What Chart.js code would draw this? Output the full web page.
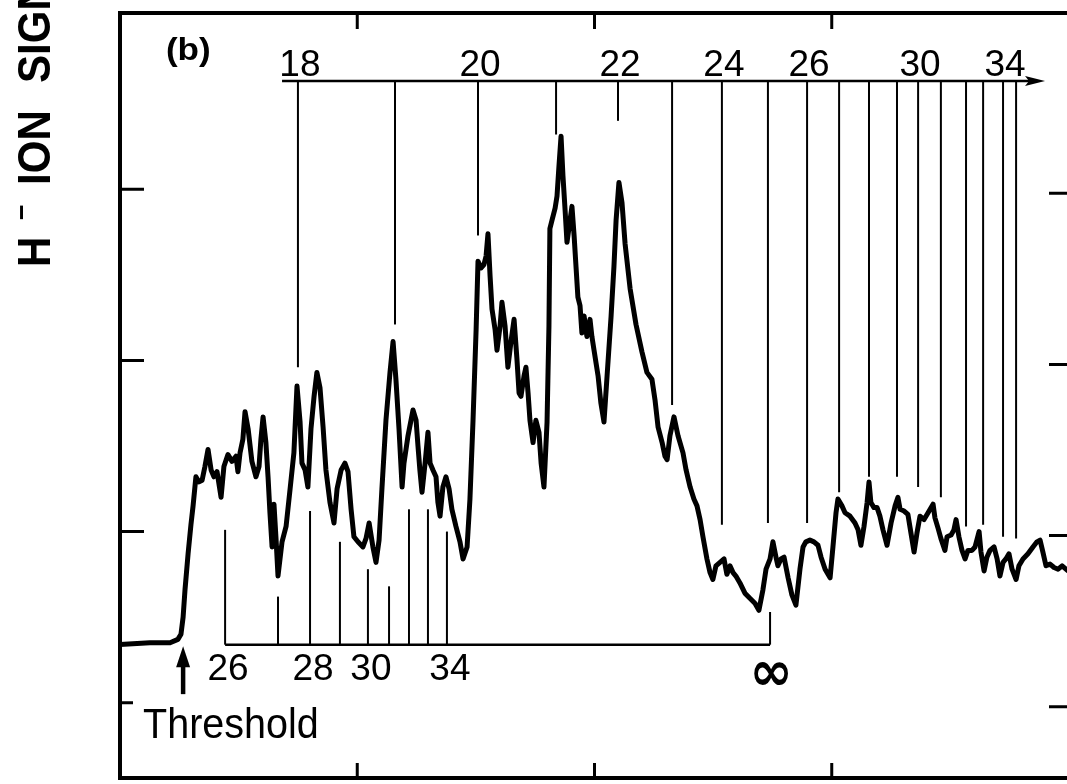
<!DOCTYPE html>
<html>
<head>
<meta charset="utf-8">
<script src="https://cdn.jsdelivr.net/npm/chart.js@4/dist/chart.umd.min.js"></script>
<style>
  html, body { margin: 0; padding: 0; background: #fff; overflow: hidden; }
  #wrap { width: 1067px; height: 784px; overflow: hidden; position: relative; }
  canvas { position: absolute; left: 0; top: 0; }
</style>
</head>
<body>
<div id="wrap"><canvas id="grafico" width="1072" height="784"></canvas></div>
<script>
// ENERGIA (unidades arbitrarias, 1 unidade por marca do eixo inferior)
const energia = [0,0.126,0.211,0.244,0.257,0.266,0.274,0.287,0.299,0.308,
  0.320,0.333,0.346,0.358,0.371,0.384,0.396,0.409,0.426,0.438,
  0.455,0.472,0.489,0.497,0.506,0.518,0.527,0.540,0.556,0.573,
  0.586,0.594,0.603,0.615,0.624,0.632,0.641,0.649,0.658,0.666,
  0.683,0.700,0.717,0.733,0.746,0.759,0.767,0.780,0.792,0.805,
  0.818,0.830,0.843,0.856,0.868,0.885,0.902,0.915,0.932,0.948,
  0.961,0.974,0.986,1.003,1.024,1.037,1.050,1.066,1.079,1.092,
  1.104,1.121,1.138,1.151,1.163,1.176,1.189,1.197,1.214,1.235,
  1.248,1.256,1.264,1.273,1.286,1.298,1.307,1.319,1.332,1.340,
  1.349,1.361,1.374,1.387,1.399,1.416,1.433,1.446,1.463,1.475,
  1.488,1.501,1.509,1.522,1.534,1.543,1.551,1.560,1.568,1.581,
  1.589,1.602,1.610,1.623,1.635,1.648,1.661,1.673,1.682,1.690,
  1.703,1.711,1.720,1.728,1.741,1.753,1.766,1.775,1.787,1.800,
  1.808,1.812,1.821,1.834,1.842,1.850,1.859,1.867,1.876,1.884,
  1.893,1.905,1.914,1.922,1.930,1.939,1.947,1.956,1.968,1.981,
  1.989,1.998,2.015,2.027,2.040,2.053,2.070,2.082,2.091,2.103,
  2.116,2.129,2.150,2.175,2.200,2.221,2.242,2.255,2.268,2.285,
  2.297,2.306,2.318,2.335,2.352,2.373,2.386,2.403,2.419,2.432,
  2.445,2.457,2.474,2.487,2.499,2.512,2.529,2.546,2.558,2.571,
  2.584,2.596,2.613,2.634,2.655,2.677,2.693,2.710,2.723,2.740,
  2.752,2.765,2.773,2.786,2.799,2.816,2.832,2.849,2.866,2.879,
  2.891,2.908,2.925,2.942,2.955,2.972,2.993,3.005,3.018,3.026,
  3.043,3.056,3.077,3.098,3.111,3.123,3.136,3.149,3.157,3.165,
  3.178,3.191,3.203,3.216,3.233,3.250,3.267,3.279,3.288,3.305,
  3.321,3.334,3.347,3.359,3.372,3.389,3.406,3.427,3.435,3.448,
  3.460,3.477,3.486,3.503,3.515,3.524,3.536,3.549,3.562,3.574,
  3.591,3.604,3.621,3.629,3.642,3.654,3.667,3.684,3.697,3.709,
  3.722,3.734,3.747,3.760,3.777,3.789,3.806,3.827,3.848,3.865,
  3.878,3.890,3.903,3.920,3.937,3.954,3.971,3.996];

// SINAL DE IONS H- (unidades arbitrarias)
const sinal = [0.34,0.35,0.35,0.37,0.40,0.50,0.66,0.87,1.04,1.15,
  1.32,1.29,1.30,1.38,1.48,1.36,1.32,1.35,1.20,1.38,
  1.45,1.41,1.44,1.35,1.46,1.54,1.70,1.60,1.41,1.32,
  1.38,1.54,1.67,1.52,1.32,1.11,0.91,1.16,0.95,0.74,
  0.94,1.03,1.25,1.46,1.85,1.64,1.40,1.36,1.26,1.60,
  1.79,1.93,1.84,1.61,1.36,1.17,1.05,1.25,1.36,1.40,
  1.35,1.13,0.97,0.94,0.91,0.96,1.05,0.91,0.82,0.95,
  1.25,1.65,1.93,2.11,1.89,1.60,1.26,1.40,1.56,1.71,
  1.65,1.50,1.36,1.23,1.40,1.58,1.40,1.36,1.32,1.17,
  1.09,1.26,1.32,1.25,1.13,1.03,0.94,0.84,0.91,1.19,
  1.65,2.18,2.58,2.54,2.56,2.61,2.74,2.49,2.30,2.18,
  2.06,2.20,2.34,2.20,1.96,2.11,2.24,2.01,1.81,1.79,
  1.91,1.96,1.81,1.65,1.52,1.65,1.58,1.40,1.26,1.64,
  2.20,2.77,2.82,2.89,2.96,3.13,3.31,3.08,2.88,2.69,
  2.78,2.90,2.73,2.55,2.37,2.32,2.16,2.26,2.14,2.24,
  2.14,2.06,1.91,1.75,1.64,1.91,2.26,2.55,2.82,3.04,
  2.92,2.68,2.42,2.21,2.05,1.93,1.89,1.77,1.61,1.52,
  1.44,1.42,1.56,1.67,1.56,1.46,1.36,1.26,1.19,1.15,
  1.07,0.97,0.84,0.76,0.72,0.80,0.82,0.84,0.75,0.80,
  0.76,0.74,0.70,0.64,0.61,0.58,0.54,0.66,0.78,0.84,
  0.94,0.85,0.80,0.84,0.85,0.73,0.63,0.57,0.78,0.91,
  0.94,0.95,0.94,0.92,0.85,0.78,0.73,0.91,1.11,1.19,
  1.15,1.11,1.09,1.05,1.01,0.92,1.03,1.17,1.29,1.17,
  1.14,1.14,1.09,1.01,0.92,1.05,1.15,1.20,1.13,1.12,
  1.10,0.99,0.88,0.99,1.09,1.07,1.11,1.16,1.08,1.02,
  0.96,0.89,0.97,0.98,1.01,1.07,0.97,0.89,0.84,0.89,
  0.89,0.91,1.00,0.88,0.77,0.85,0.89,0.91,0.84,0.74,
  0.82,0.84,0.87,0.78,0.72,0.80,0.84,0.87,0.91,0.94,
  0.95,0.88,0.80,0.81,0.79,0.78,0.80,0.77];

// SERIE SUPERIOR (n = 18 ... 35)
const serieSupN = [18,19,20,21,22,23,24,25,26,27,28,29,30,31,32,33,34,35];
const serieSupX = [0.750,1.159,1.509,1.838,2.099,2.327,2.537,2.731,2.896,3.031,3.157,3.275,3.364,3.460,3.566,3.638,3.722,3.777];
const serieSupFim = [1.96,2.21,2.73,3.32,3.40,1.74,1.04,1.05,1.05,1.23,1.32,1.32,1.26,1.20,1.03,1.04,0.97,0.96];
const serieSupRotulos = [18,20,22,24,26,30,34];
const serieSupNivel = 3.632;
const serieSupInicio = 0.683;
const serieSupSeta = 3.899;

// SERIE INFERIOR (n = 26 ... 34, limite infinito)
const serieInfN = [26,27,28,29,30,31,32,33,34];
const serieInfX = [0.443,0.666,0.801,0.927,1.045,1.134,1.218,1.298,1.378];
const serieInfTopo = [1.01,0.62,1.12,0.94,0.78,0.68,1.13,1.13,1.00];
const serieInfRotulos = [26,28,30,34];
const serieInfNivel = 0.339;
const limiteX = 2.740;
const limiteTopo = 0.53;

// LIMIAR
const limiarX = 0.266;
const limiarTopo = 0.33;
const limiarBase = 0.05;

// MARCAS DOS EIXOS
const marcasX = [1, 2, 3];
const marcasY = [0, 1, 2, 3];

// texto ajustado a uma caixa (tinta) em pixels
function textoNaCaixa(ctx, texto, fonte, esq, topo, dir, base) {
  ctx.save();
  ctx.font = fonte;
  ctx.textAlign = "left";
  ctx.textBaseline = "alphabetic";
  const m = ctx.measureText(texto);
  const w = m.actualBoundingBoxLeft + m.actualBoundingBoxRight;
  const h = m.actualBoundingBoxAscent + m.actualBoundingBoxDescent;
  ctx.translate(esq, topo);
  ctx.scale((dir - esq) / w, (base - topo) / h);
  ctx.fillText(texto, m.actualBoundingBoxLeft, m.actualBoundingBoxAscent);
  ctx.restore();
}

const desenho = {
  id: "desenho",
  beforeDatasetsDraw(chart) {
    const { ctx, scales: { x, y } } = chart;
    ctx.save();
    ctx.strokeStyle = "#000";
    ctx.fillStyle = "#000";
    ctx.lineCap = "butt";

    // serie superior
    const yNivel = y.getPixelForValue(serieSupNivel);
    ctx.lineWidth = 2.5;
    ctx.beginPath();
    ctx.moveTo(x.getPixelForValue(serieSupInicio), yNivel);
    ctx.lineTo(x.getPixelForValue(serieSupSeta) - 8, yNivel);
    ctx.stroke();
    const ps = x.getPixelForValue(serieSupSeta);
    ctx.beginPath();
    ctx.moveTo(ps, yNivel);
    ctx.lineTo(ps - 20, yNivel - 5);
    ctx.lineTo(ps - 16, yNivel);
    ctx.lineTo(ps - 20, yNivel + 5);
    ctx.closePath();
    ctx.fill();

    ctx.lineWidth = 2;
    serieSupX.forEach((v, i) => {
      const px = x.getPixelForValue(v);
      ctx.beginPath();
      ctx.moveTo(px, yNivel);
      ctx.lineTo(px, y.getPixelForValue(serieSupFim[i]));
      ctx.stroke();
    });

    // serie inferior
    const yInf = y.getPixelForValue(serieInfNivel);
    ctx.lineWidth = 2.5;
    ctx.beginPath();
    ctx.moveTo(x.getPixelForValue(serieInfX[0]), yInf);
    ctx.lineTo(x.getPixelForValue(limiteX), yInf);
    ctx.stroke();
    ctx.lineWidth = 2;
    serieInfX.forEach((v, i) => {
      const px = x.getPixelForValue(v);
      ctx.beginPath();
      ctx.moveTo(px, yInf);
      ctx.lineTo(px, y.getPixelForValue(serieInfTopo[i]));
      ctx.stroke();
    });
    const pl = x.getPixelForValue(limiteX);
    ctx.beginPath();
    ctx.moveTo(pl, yInf);
    ctx.lineTo(pl, y.getPixelForValue(limiteTopo));
    ctx.stroke();

    // seta do limiar
    const pa = x.getPixelForValue(limiarX);
    const ta = y.getPixelForValue(limiarTopo);
    ctx.lineWidth = 4.5;
    ctx.beginPath();
    ctx.moveTo(pa, y.getPixelForValue(limiarBase));
    ctx.lineTo(pa, ta + 14);
    ctx.stroke();
    ctx.beginPath();
    ctx.moveTo(pa, ta);
    ctx.lineTo(pa - 7, ta + 21);
    ctx.lineTo(pa + 7, ta + 21);
    ctx.closePath();
    ctx.fill();
    ctx.restore();
  },
  afterDraw(chart) {
    const { ctx, chartArea: a, scales: { x, y } } = chart;
    ctx.save();
    ctx.strokeStyle = "#000";
    ctx.fillStyle = "#000";

    // moldura (o lado direito fica fora da imagem)
    ctx.lineWidth = 4;
    ctx.beginPath();
    ctx.moveTo(a.right + 10, a.top);
    ctx.lineTo(a.left, a.top);
    ctx.lineTo(a.left, a.bottom);
    ctx.lineTo(a.right + 10, a.bottom);
    ctx.stroke();

    // marcas
    ctx.lineWidth = 3;
    marcasY.forEach(v => {
      const py = y.getPixelForValue(v);
      const len = v === 0 ? 13 : 24;
      ctx.beginPath();
      ctx.moveTo(a.left, py);
      ctx.lineTo(a.left + len, py);
      ctx.moveTo(a.right, py + 4);
      ctx.lineTo(a.right - 20, py + 4);
      ctx.stroke();
    });
    marcasX.forEach(v => {
      const px = x.getPixelForValue(v);
      ctx.beginPath();
      ctx.moveTo(px, a.bottom);
      ctx.lineTo(px, a.bottom - 15);
      ctx.moveTo(px, a.top);
      ctx.lineTo(px, a.top + 16);
      ctx.stroke();
    });

    // rotulos das series
    ctx.font = '37px "Liberation Sans", Arial, sans-serif';
    ctx.textAlign = "center";
    ctx.textBaseline = "alphabetic";
    const yNivel = y.getPixelForValue(serieSupNivel);
    serieSupRotulos.forEach(n => {
      const px = x.getPixelForValue(serieSupX[serieSupN.indexOf(n)]);
      ctx.fillText(String(n), px + 2, yNivel - 5);
    });
    const yInf = y.getPixelForValue(serieInfNivel);
    serieInfRotulos.forEach(n => {
      const px = x.getPixelForValue(serieInfX[serieInfN.indexOf(n)]);
      ctx.fillText(String(n), px + 3, yInf + 35);
    });
    const pl = x.getPixelForValue(limiteX);
    textoNaCaixa(ctx, "\u221E", 'bold 46px "DejaVu Sans", sans-serif', pl - 16, yInf + 17, pl + 19, yInf + 41);

    // textos
    textoNaCaixa(ctx, "(b)", 'bold 32px "Liberation Sans", Arial, sans-serif', 167, 37, 210, 67);
    textoNaCaixa(ctx, "Threshold", '43px "Liberation Sans", Arial, sans-serif', 143, 707, 317, 738);

    // titulo do eixo y (rodado)
    ctx.save();
    ctx.translate(50, 267);
    ctx.rotate(-Math.PI / 2);
    ctx.textAlign = "left";
    ctx.textBaseline = "alphabetic";
    ctx.font = 'bold 46px "Liberation Sans", Arial, sans-serif';
    const mi = ctx.measureText("ION");
    const k = 70 / (mi.actualBoundingBoxLeft + mi.actualBoundingBoxRight);
    ctx.scale(k, 1);
    ctx.fillText("H", 0, 0);
    ctx.fillText("ION", 82 / k, 0);
    ctx.fillText("SIGNAL", 184 / k, 0);
    ctx.font = 'bold 30px "Liberation Sans", Arial, sans-serif';
    ctx.fillText("\u2013", 47 / k, -20);
    ctx.restore();

    ctx.restore();
  }
};

new Chart(document.getElementById("grafico"), {
  type: "line",
  data: {
    datasets: [{
      label: "",
      data: energia.map((e, i) => ({ x: e, y: sinal[i] })),
      borderColor: "#000",
      borderWidth: 5,
      pointRadius: 0,
      tension: 0,
      borderJoinStyle: "round",
      borderCapStyle: "round",
      fill: false
    }]
  },
  options: {
    responsive: false,
    animation: false,
    devicePixelRatio: 1,
    layout: { padding: { left: 120, top: 13, right: 3, bottom: 6 } },
    plugins: {
      legend: { display: false },
      tooltip: { enabled: false }
    },
    scales: {
      x: { type: "linear", min: 0, max: 4, display: false },
      y: { type: "linear", min: -0.44, max: 4.03, display: false }
    }
  },
  plugins: [desenho]
});
</script>
</body>
</html>
